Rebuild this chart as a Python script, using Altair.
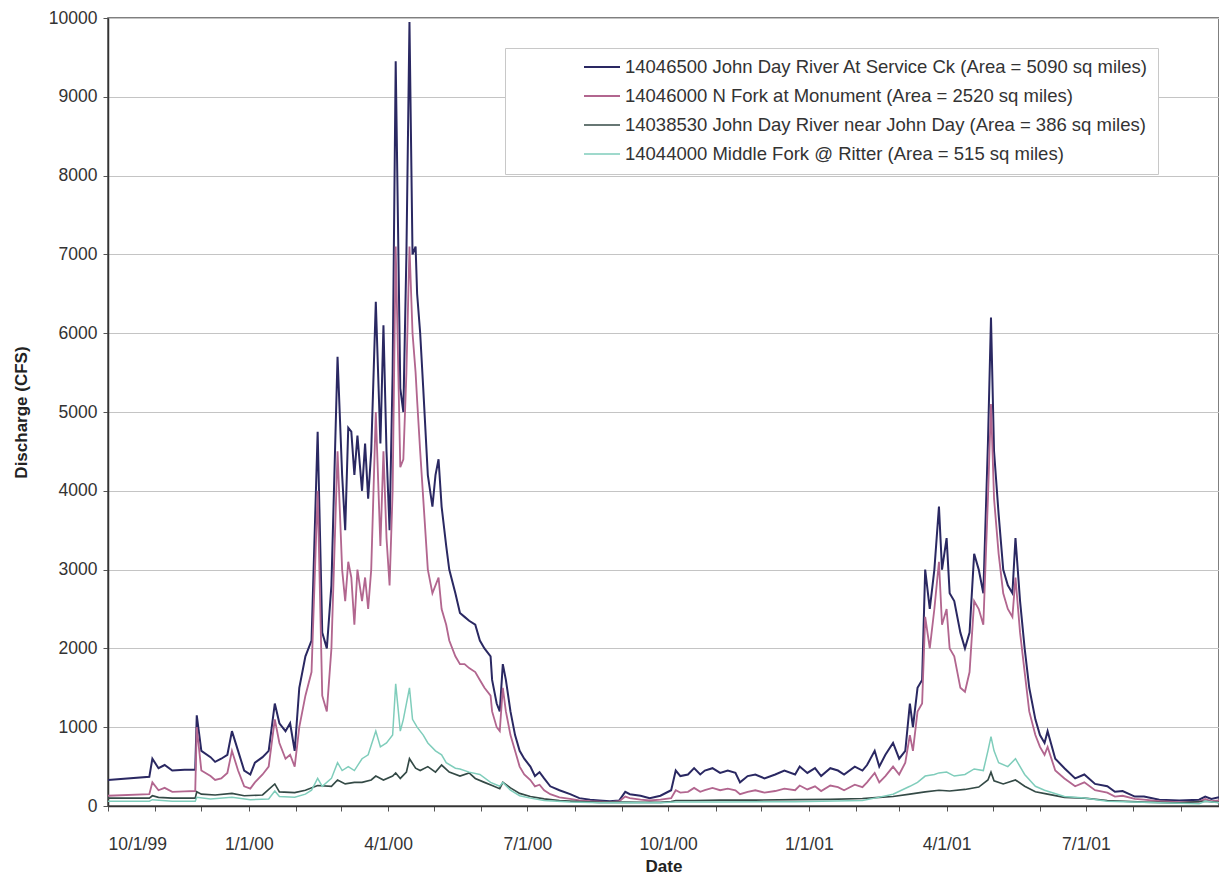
import altair as alt
import pandas as pd

START = "1999-10-01"

station_names = [
    "14046500 John Day River At Service Ck (Area = 5090 sq miles)",
    "14046000 N Fork at Monument (Area = 2520 sq miles)",
    "14038530 John Day River near John Day (Area = 386 sq miles)",
    "14044000 Middle Fork @ Ritter (Area = 515 sq miles)",
]
station_colors = ["#2a2862", "#b2668f", "#344a46", "#7fcdbb"]
station_widths = [2.0, 1.5, 1.8, 1.5]

# days since 10/1/99 and discharge (CFS)
svc_days = [0, 27, 29, 33, 37, 42, 50, 57, 58, 61, 67, 70, 74, 78, 81, 85, 89, 93, 96, 101, 105, 109, 112, 116, 119, 122,
            125, 129, 133, 137, 140, 143, 146, 150, 153, 155, 157, 159, 161, 163, 166, 168, 170, 172, 175, 178, 180, 182,
            184, 186, 188, 191, 193, 195, 197, 199, 201, 202, 204, 206, 209, 212, 214, 216, 218, 221, 223, 227, 230, 233,
            236, 240, 243, 246, 250, 251, 254, 256, 258, 260, 263, 266, 269, 272, 276, 279, 282, 285, 289, 295, 302, 308,
            315, 321, 328, 334, 338, 341, 348, 354, 361, 368, 371, 374, 379, 383, 387, 390, 395, 400, 405, 410, 413, 418,
            423, 429, 436, 442, 449, 452, 457, 462, 466, 472, 477, 481, 488, 493, 496, 501, 504, 508, 513, 517, 521, 524,
            526, 529, 532, 534, 537, 540, 543, 545, 548, 550, 553, 557, 560, 563, 566, 569, 572, 575, 577, 579, 582, 585,
            588, 591, 593, 596, 599, 602, 606, 609, 612, 614, 619, 625, 632, 638, 645, 653, 658, 663, 671, 677, 687, 700,
            713, 717, 721, 726]
svc_cfs = [330, 370, 600, 480, 520, 450, 460, 460, 1150, 700, 620, 560, 600, 650, 950, 700, 450, 400, 550, 620, 700, 1300,
           1050, 950, 1050, 700, 1500, 1900, 2100, 4750, 2200, 2000, 2800, 5700, 4200, 3500, 4800, 4750, 4200, 4700, 4000,
           4600, 3900, 4500, 6400, 4600, 6100, 4500, 3500, 5500, 9450, 5300, 5000, 7000, 9950, 7000, 7100, 6500, 6000, 5300,
           4200, 3800, 4200, 4400, 3800, 3300, 3000, 2700, 2450, 2400, 2350, 2300, 2100, 2000, 1900, 1600, 1300, 1200, 1800,
           1600, 1200, 900, 700, 600, 500, 380, 430, 350, 250, 200, 150, 100, 80, 70, 60, 70, 180, 150, 130, 100, 130, 200,
           450, 380, 400, 480, 400, 450, 480, 420, 450, 420, 300, 380, 400, 350, 400, 450, 400, 500, 420, 480, 380, 480,
           450, 400, 500, 450, 520, 700, 500, 650, 800, 600, 700, 1300, 1000, 1500, 1600, 3000, 2500, 3000, 3800, 3000,
           3400, 2700, 2600, 2200, 2000, 2200, 3200, 3000, 2700, 4600, 6200, 4500, 3700, 3000, 2800, 2700, 3400, 2600,
           2000, 1500, 1100, 900, 800, 950, 600, 480, 350, 400, 280, 250, 180, 190, 120, 120, 80, 70, 80, 120, 90, 110]

nf_days = svc_days
nf_cfs = [130, 150, 300, 200, 230, 180, 185, 190, 1000, 450, 380, 330, 350, 420, 700, 450, 250, 220, 300, 400, 500, 1100,
          800, 600, 650, 500, 1000, 1400, 1700, 4000, 1400, 1200, 2000, 4500, 3000, 2600, 3100, 2900, 2300, 3000, 2600,
          2900, 2500, 3000, 5000, 3300, 4500, 3400, 2800, 4000, 7100, 4300, 4400, 5500, 7100, 6000, 5500, 5150, 4500, 3900,
          3000, 2700, 2800, 2900, 2500, 2300, 2100, 1900, 1800, 1800, 1750, 1700, 1600, 1500, 1400, 1200, 1000, 950, 1500,
          1200, 900, 700, 500, 400, 330, 250, 270, 200, 150, 110, 90, 70, 60, 55, 50, 60, 120, 100, 80, 70, 80, 100,
          200, 170, 180, 230, 180, 200, 230, 200, 220, 200, 150, 180, 200, 170, 190, 220, 200, 260, 210, 250, 190, 260,
          240, 200, 270, 240, 300, 420, 300, 380, 500, 400, 550, 900, 700, 1200, 1300, 2400, 2000, 2500, 3100, 2300,
          2500, 2000, 1900, 1500, 1450, 1700, 2600, 2500, 2300, 3900, 5100, 3900, 3200, 2700, 2500, 2400, 2900, 2200,
          1700, 1200, 900, 750, 650, 750, 450, 350, 250, 300, 200, 170, 120, 130, 90, 80, 60, 50, 55, 90, 60, 70]

jd_days = [0, 27, 29, 33, 42, 57, 58, 61, 70, 81, 89, 101, 109, 112, 122, 129, 137, 146, 150, 155, 161, 166, 172, 175, 180,
           186, 188, 191, 195, 197, 201, 204, 209, 214, 218, 223, 230, 236, 240, 246, 251, 256, 258, 263, 269, 276, 285,
           295, 308, 321, 338, 348, 361, 368, 371, 383, 400, 423, 449, 472, 493, 504, 513, 524, 534, 543, 550, 560, 569,
           575, 577, 579, 585, 593, 599, 606, 614, 625, 638, 653, 677, 700, 717, 726]
jd_cfs = [100, 100, 130, 110, 100, 100, 180, 150, 140, 160, 130, 140, 280, 180, 170, 200, 260, 250, 330, 280, 300, 300, 330,
          380, 330, 380, 420, 350, 430, 600, 480, 450, 500, 430, 520, 430, 380, 420, 350, 300, 260, 220, 300, 230, 160,
          120, 90, 70, 55, 45, 50, 45, 45, 55, 70, 70, 75, 75, 80, 85, 95, 110, 120, 150, 180, 200, 190, 210, 240, 330,
          430, 320, 280, 330, 250, 180, 150, 110, 100, 70, 50, 40, 60, 45]

mf_days = [0, 27, 29, 42, 57, 58, 67, 81, 93, 105, 109, 112, 122, 129, 133, 137, 140, 146, 150, 153, 157, 161, 166, 170, 175,
           178, 182, 186, 188, 191, 193, 197, 199, 202, 206, 209, 214, 218, 221, 227, 230, 236, 243, 250, 256, 258, 263,
           269, 276, 285, 302, 321, 338, 361, 371, 400, 449, 493, 501, 513, 524, 529, 534, 540, 543, 548, 553, 560, 566,
           572, 575, 577, 579, 582, 588, 593, 599, 606, 612, 625, 638, 653, 687, 713, 717, 726]
mf_cfs = [60, 60, 80, 60, 60, 110, 90, 110, 80, 90, 190, 120, 110, 150, 200, 350, 250, 350, 550, 450, 500, 450, 600, 650,
          950, 750, 800, 900, 1550, 950, 1100, 1500, 1100, 1000, 900, 800, 700, 650, 550, 480, 470, 430, 400, 300, 250,
          300, 200, 130, 100, 70, 50, 40, 45, 40, 50, 50, 55, 70, 100, 150, 250, 300, 380, 400, 420, 430, 380, 400, 470,
          450, 700, 880, 700, 550, 500, 600, 400, 250, 200, 120, 100, 60, 40, 30, 60, 40]

tick_months = pd.date_range("1999-10-01", "2001-09-01", freq="MS")

frames = []
for name, days, vals in zip(station_names, [svc_days, nf_days, jd_days, mf_days], [svc_cfs, nf_cfs, jd_cfs, mf_cfs]):
    dates = pd.to_datetime(START) + pd.to_timedelta(days, unit="D")
    frames.append(pd.DataFrame({"date": dates.strftime("%Y-%m-%d"), "cfs": vals, "station": name}))
df = pd.concat(frames, ignore_index=True)

FONT = "Liberation Sans"

x_axis = alt.Axis(
    title="Date",
    values=[alt.DateTime(year=d.year, month=d.month, date=1, utc=True) for d in tick_months],
    labelExpr="utcmonth(datum.value) % 3 == 0 ? utcFormat(datum.value, '%-m/%-d/%y') : ''",
    labelOverlap=False,
    grid=False,
    tickSize=5,
    labelPadding=24,
    titlePadding=6,
)
y_axis = alt.Axis(
    title="Discharge (CFS)",
    values=list(range(0, 10001, 1000)),
    format="d",
    tickSize=5,
    labelPadding=6,
    titlePadding=18,
)

chart = (
    alt.Chart(df)
    .mark_line(clip=True)
    .encode(
        x=alt.X("date:T", axis=x_axis,
                scale=alt.Scale(type="utc", domain=[alt.DateTime(year=1999, month=10, date=1, utc=True),
                                                    alt.DateTime(year=2001, month=9, date=26, utc=True)])),
        y=alt.Y("cfs:Q", axis=y_axis, scale=alt.Scale(domain=[0, 10000], nice=False)),
        color=alt.Color(
            "station:N",
            scale=alt.Scale(domain=station_names, range=station_colors),
            sort=station_names,
            legend=alt.Legend(
                title=None, orient="none", legendX=397, legendY=30,
                symbolType="stroke", symbolSize=1296, symbolStrokeWidth=2,
                clipHeight=18, rowPadding=10, padding=10,
                symbolOffset=68, labelOffset=4, labelLimit=1000,
                labelFont=FONT, labelFontSize=18.5, labelColor="#333",
                fillColor="white", strokeColor="#c8c8c8",
            ),
        ),
        strokeWidth=alt.StrokeWidth(
            "station:N",
            scale=alt.Scale(domain=station_names, range=station_widths),
            legend=None,
        ),
        detail="station:N",
    )
    .properties(
        width=1111, height=788,
        autosize=alt.AutoSizeParams(type="none"),
        padding={"left": 100, "top": 10, "right": 0, "bottom": 72},
    )
    .configure_view(stroke="#555", strokeWidth=1.5)
    .configure_axis(
        labelFont=FONT, labelFontSize=17.5, labelColor="#333",
        titleFont=FONT, titleFontSize=17, titleFontWeight="bold", titleColor="#222",
        domainColor="#333", domainWidth=1.5, tickColor="#555",
        gridColor="#c4c4c4", gridWidth=1,
    )
)

chart.save("out.html", embed_options={"renderer": "svg", "actions": False})
